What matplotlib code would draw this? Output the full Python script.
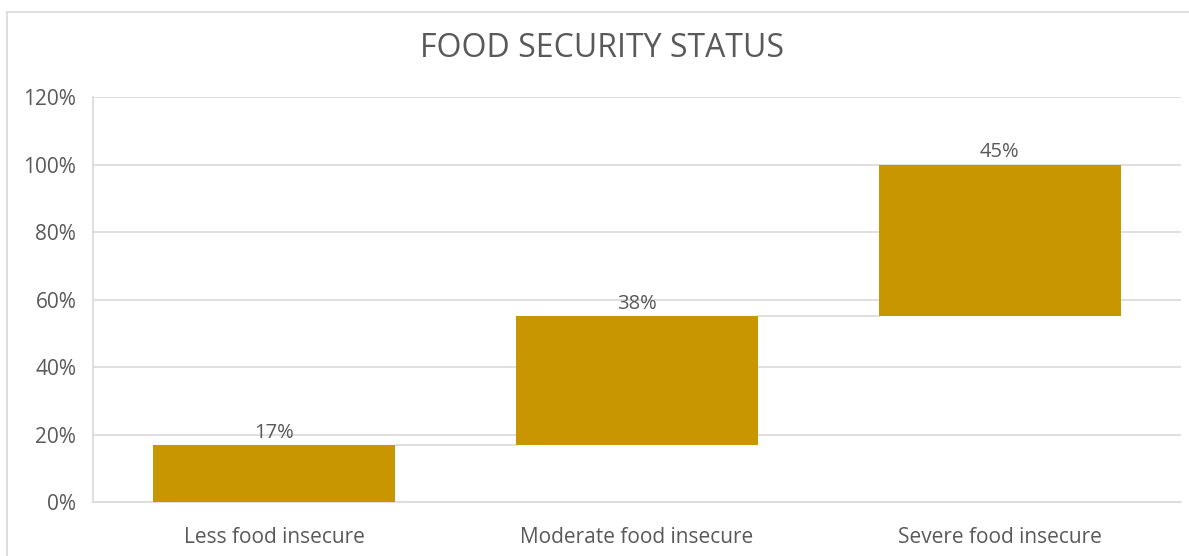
import matplotlib
matplotlib.use("Agg")
import matplotlib.pyplot as plt
import numpy as np
from matplotlib.patches import Rectangle

categories = ["Less food insecure", "Moderate food insecure", "Severe food insecure"]
shares = [17, 38, 45]
y_ticks = [0, 20, 40, 60, 80, 100, 120]

bar_color = "#C89600"
grid_color = "#D9D9D9"
text_color = "#595959"

plt.rcParams["font.family"] = ["Open Sans", "DejaVu Sans"]

fig = plt.figure(figsize=(11.89, 5.56), dpi=100)
ax = fig.add_axes([0.0782, 0.0971, 0.9151, 0.7284])

# waterfall: each bar starts where the previous one ended
tops = np.cumsum(shares)
bases = tops - np.array(shares)
x = np.arange(len(categories))
width = 0.667

ax.bar(x, shares, bottom=bases, width=width, color=bar_color, zorder=3)
for i in range(len(categories)):
    ax.text(x[i], tops[i] + 0.6, f"{shares[i]}%", ha="center", va="bottom",
            fontsize=14.5, color=text_color, zorder=4)

# connector lines between bars
for i in range(len(categories) - 1):
    ax.plot([x[i] + width / 2, x[i + 1] - width / 2], [tops[i], tops[i]],
            color=grid_color, lw=1.2, zorder=2)

ax.set_xlim(-0.5, len(categories) - 0.5)
ax.set_ylim(0, 120)
ax.set_yticks(y_ticks)
ax.set_yticklabels([f"{t}%" for t in y_ticks])
ax.set_xticks(x)
ax.set_xticklabels(categories)
ax.tick_params(axis="both", length=0, labelsize=15, labelcolor=text_color)
ax.tick_params(axis="y", pad=12)
ax.tick_params(axis="x", pad=18)
ax.grid(axis="y", color=grid_color, lw=1.2, zorder=0)

for side in ("top", "right"):
    ax.spines[side].set_visible(False)
for side in ("left", "bottom"):
    ax.spines[side].set_color(grid_color)
    ax.spines[side].set_linewidth(1.2)

fig.text(0.506, 0.912, "FOOD SECURITY STATUS", ha="center", va="center",
         fontsize=23, color=text_color)

# chart frame
fig.patches.append(Rectangle((7 / 1189, -0.05), 1.2, 1 - 12 / 556 + 0.05,
                             transform=fig.transFigure, fill=False,
                             edgecolor=grid_color, lw=1.2))

fig.savefig("out.png", dpi=100)
